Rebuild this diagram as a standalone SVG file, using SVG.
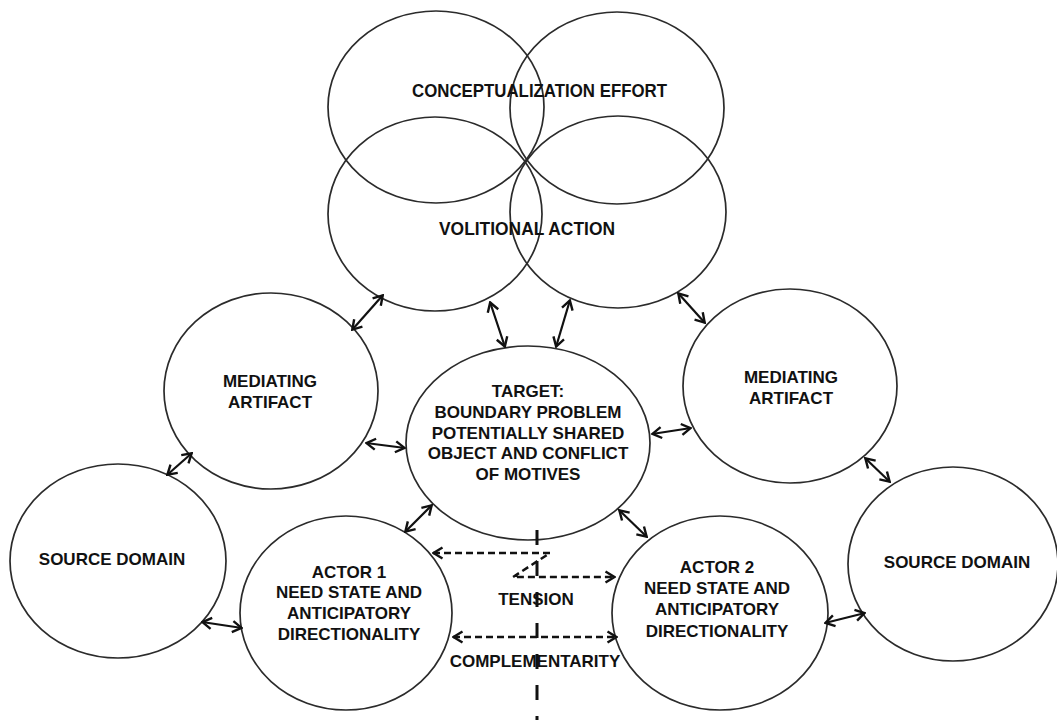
<svg xmlns="http://www.w3.org/2000/svg" width="1057" height="720" viewBox="0 0 1057 720">
<style>
.node ellipse{fill:none;stroke:#2b2b2b;stroke-width:1.7}
.lbl{font-family:"Liberation Sans",Arial,sans-serif;font-weight:bold;font-size:17px;fill:#111;text-anchor:middle}
.cal{font-family:"Liberation Sans",Arial,sans-serif;font-weight:bold;font-size:17.5px;fill:#111}
.arr{stroke:#111;stroke-width:2.2;fill:none;marker-start:url(#ah);marker-end:url(#ah)}
.dash{stroke:#111;stroke-width:2.5;fill:none;stroke-dasharray:7 4;marker-start:url(#ah);marker-end:url(#ah)}
.vdash{stroke:#111;stroke-width:3;fill:none;stroke-dasharray:15 16}
</style>
<defs>
<marker id="ah" viewBox="0 0 12 14" refX="11" refY="7" markerWidth="12" markerHeight="14" markerUnits="userSpaceOnUse" orient="auto-start-reverse">
<path d="M1.5,1.5 L10.5,7 L1.5,12.5" fill="none" stroke="#111" stroke-width="2.4"/>
</marker>
</defs>
<rect width="1057" height="720" fill="#fff"/>
<g id="conceptualization">
<g class="node"><ellipse cx="436" cy="107" rx="108" ry="96"/><ellipse cx="617" cy="108" rx="107" ry="96"/></g>
<text class="cal" x="412" y="97" textLength="255" lengthAdjust="spacingAndGlyphs">CONCEPTUALIZATION EFFORT</text>
</g>
<g id="volitional">
<g class="node"><ellipse cx="435" cy="214" rx="107" ry="97"/><ellipse cx="618" cy="212" rx="108" ry="96"/></g>
<text class="cal" x="439" y="235" textLength="176" lengthAdjust="spacingAndGlyphs">VOLITIONAL ACTION</text>
</g>
<g id="mediating-left" class="node">
<ellipse cx="271" cy="391" rx="107" ry="98"/>
<text class="lbl" x="270" y="387">MEDIATING</text>
<text class="lbl" x="270" y="408">ARTIFACT</text>
</g>
<g id="mediating-right" class="node">
<ellipse cx="790" cy="386" rx="107" ry="97"/>
<text class="lbl" x="791" y="383">MEDIATING</text>
<text class="lbl" x="791" y="404">ARTIFACT</text>
</g>
<g id="target" class="node">
<ellipse cx="528" cy="443" rx="122" ry="97"/>
<text class="lbl" x="528" y="397">TARGET:</text>
<text class="lbl" x="528" y="418">BOUNDARY PROBLEM</text>
<text class="lbl" x="528" y="439">POTENTIALLY SHARED</text>
<text class="lbl" x="528" y="459">OBJECT AND CONFLICT</text>
<text class="lbl" x="528" y="480">OF MOTIVES</text>
</g>
<g id="source-left" class="node">
<ellipse cx="118" cy="561" rx="108" ry="97"/>
<text class="lbl" x="112" y="565">SOURCE DOMAIN</text>
</g>
<g id="source-right" class="node">
<ellipse cx="953" cy="564" rx="105" ry="97"/>
<text class="lbl" x="957" y="568">SOURCE DOMAIN</text>
</g>
<g id="actor1" class="node">
<ellipse cx="346" cy="613" rx="106" ry="97"/>
<text class="lbl" x="349" y="578">ACTOR 1</text>
<text class="lbl" x="349" y="598">NEED STATE AND</text>
<text class="lbl" x="349" y="619">ANTICIPATORY</text>
<text class="lbl" x="349" y="640">DIRECTIONALITY</text>
</g>
<g id="actor2" class="node">
<ellipse cx="720" cy="613" rx="108" ry="97"/>
<text class="lbl" x="717" y="573">ACTOR 2</text>
<text class="lbl" x="717" y="594">NEED STATE AND</text>
<text class="lbl" x="717" y="615">ANTICIPATORY</text>
<text class="lbl" x="717" y="637">DIRECTIONALITY</text>
</g>
<g id="connectors">
<line class="arr" x1="352" y1="330" x2="383" y2="295"/>
<line class="arr" x1="490" y1="302" x2="505" y2="347"/>
<line class="arr" x1="570" y1="300" x2="556" y2="347"/>
<line class="arr" x1="678" y1="293" x2="705" y2="323"/>
<line class="arr" x1="366" y1="443" x2="405" y2="448"/>
<line class="arr" x1="652" y1="434" x2="691" y2="428"/>
<line class="arr" x1="192" y1="453" x2="167" y2="475"/>
<line class="arr" x1="865" y1="458" x2="890" y2="482"/>
<line class="arr" x1="202" y1="622" x2="242" y2="628"/>
<line class="arr" x1="825" y1="623" x2="865" y2="613"/>
<line class="arr" x1="432" y1="505" x2="405" y2="532"/>
<line class="arr" x1="619" y1="510" x2="647" y2="537"/>
<polyline class="dash" points="433,553 550,553 513,577 615,577"/>
<line class="dash" x1="453" y1="637" x2="617" y2="637"/>
<line class="vdash" x1="537" y1="530" x2="537" y2="720"/>
</g>
<g id="labels">
<text class="lbl" x="536" y="605">TENSION</text>
<text class="lbl" x="535" y="667">COMPLEMENTARITY</text>
</g>
</svg>
